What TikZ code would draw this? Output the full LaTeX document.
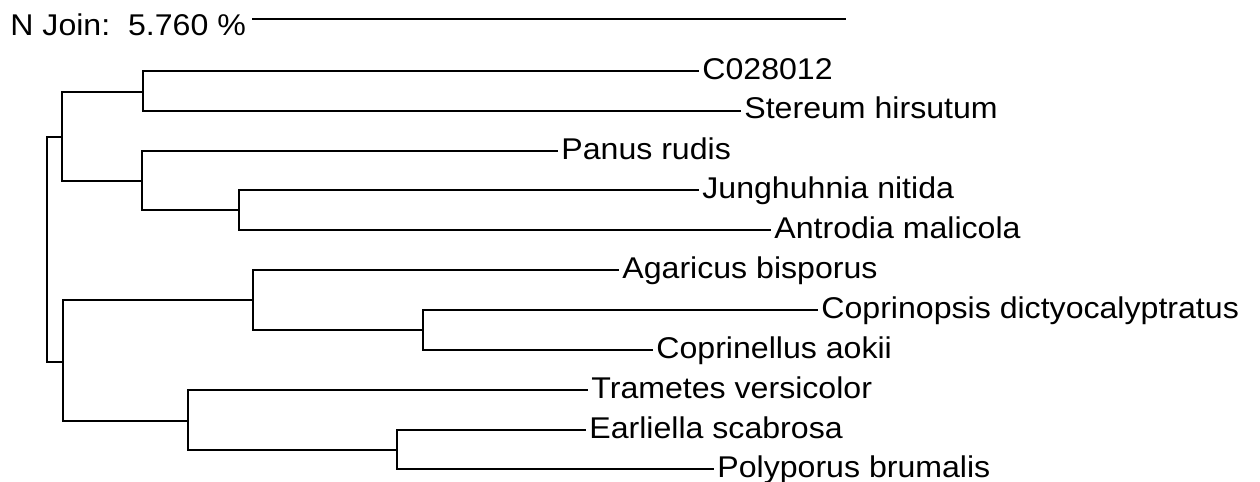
\documentclass[tikz,border=0pt]{standalone}
\usepackage{fontspec}
\newfontfamily\labfont[FakeStretch=1.07]{Liberation Sans}
\begin{document}
\begin{tikzpicture}[x=0.5pt,y=-0.5pt,
  branch/.style={line width=1.2pt,line join=miter,line cap=rect},
  leaf/.style={anchor=base west,inner sep=0pt,font=\labfont\fontsize{15}{18}\selectfont}]
\fill[white] (0,0) rectangle (1260,482);
\useasboundingbox (0,0) rectangle (1260,482);
% scale bar
\node[leaf] (sl) at (10,35) {N Join:\ \ 5.760 \%};
\coordinate (s0) at (253,19);
\coordinate (s1) at (845,19);
\draw[branch] (s0) -- (s1);
% leaf ends
\coordinate (e1) at (698,71);
\coordinate (e2) at (740,111);
\coordinate (e3) at (557,151);
\coordinate (e4) at (698,190);
\coordinate (e5) at (770,230);
\coordinate (e6) at (618,270);
\coordinate (e7) at (817,310);
\coordinate (e8) at (652,350);
\coordinate (e9) at (587,390);
\coordinate (e10) at (585,430);
\coordinate (e11) at (713,469);
% labels
\node[leaf] (t1) at ([xshift=2pt,yshift=-4pt]e1) {C028012};
\node[leaf] (t2) at ([xshift=2pt,yshift=-4pt]e2) {Stereum hirsutum};
\node[leaf] (t3) at ([xshift=2pt,yshift=-4pt]e3) {Panus rudis};
\node[leaf] (t4) at ([xshift=2pt,yshift=-4pt]e4) {Junghuhnia nitida};
\node[leaf] (t5) at ([xshift=2pt,yshift=-4pt]e5) {Antrodia malicola};
\node[leaf] (t6) at ([xshift=2pt,yshift=-4pt]e6) {Agaricus bisporus};
\node[leaf] (t7) at ([xshift=2pt,yshift=-4pt]e7) {Coprinopsis dictyocalyptratus};
\node[leaf] (t8) at ([xshift=2pt,yshift=-4pt]e8) {Coprinellus aokii};
\node[leaf] (t9) at ([xshift=2pt,yshift=-4pt]e9) {Trametes versicolor};
\node[leaf] (t10) at ([xshift=2pt,yshift=-4pt]e10) {Earliella scabrosa};
\node[leaf] (t11) at ([xshift=2pt,yshift=-4pt]e11) {Polyporus brumalis};
% internal nodes
\coordinate (n12) at (143,92);
\coordinate (n45) at (239,210);
\coordinate (n345) at (142,181);
\coordinate (nup) at (62,137);
\coordinate (n78) at (423,330);
\coordinate (n678) at (253,300);
\coordinate (n1011) at (397,450);
\coordinate (n91011) at (188,421);
\coordinate (nlow) at (63,362);
\coordinate (root) at (47,249);
% branches
\draw[branch] (n12) |- (e1);
\draw[branch] (n12) |- (e2);
\draw[branch] (n45) |- (e4);
\draw[branch] (n45) |- (e5);
\draw[branch] (n345) |- (e3);
\draw[branch] (n345) |- (n45);
\draw[branch] (nup) |- (n12);
\draw[branch] (nup) |- (n345);
\draw[branch] (n78) |- (e7);
\draw[branch] (n78) |- (e8);
\draw[branch] (n678) |- (e6);
\draw[branch] (n678) |- (n78);
\draw[branch] (n1011) |- (e10);
\draw[branch] (n1011) |- (e11);
\draw[branch] (n91011) |- (e9);
\draw[branch] (n91011) |- (n1011);
\draw[branch] (nlow) |- (n678);
\draw[branch] (nlow) |- (n91011);
\draw[branch] (root) |- (nup);
\draw[branch] (root) |- (nlow);
\end{tikzpicture}
\end{document}
